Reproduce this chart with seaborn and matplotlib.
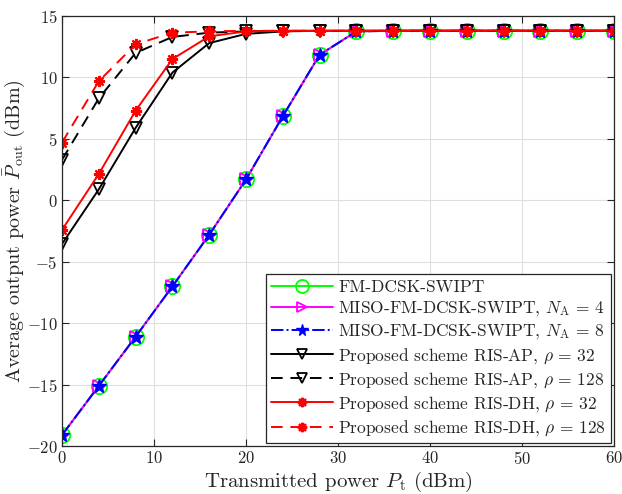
import seaborn as sns
import matplotlib.pyplot as plt
import numpy as np
import pandas as pd

# transmitted power (dBm)
pt = [0, 4, 8, 12, 16, 20, 24, 28, 32, 36, 40, 44, 48, 52, 56, 60]

# average output power (dBm)
fm_dcsk = [-19.1, -15.1, -11.1, -7.0, -2.8, 1.7, 6.85, 11.85, 13.75, 13.8, 13.8, 13.8, 13.8, 13.8, 13.8, 13.8]
miso_4 = [-19.1, -15.1, -11.1, -7.0, -2.8, 1.7, 6.85, 11.85, 13.75, 13.8, 13.8, 13.8, 13.8, 13.8, 13.8, 13.8]
miso_8 = [-19.1, -15.1, -11.1, -7.0, -2.8, 1.7, 6.85, 11.85, 13.75, 13.8, 13.8, 13.8, 13.8, 13.8, 13.8, 13.8]
ris_ap_32 = [-3.55, 0.9, 5.9, 10.4, 12.8, 13.55, 13.75, 13.8, 13.8, 13.8, 13.8, 13.8, 13.8, 13.8, 13.8, 13.8]
ris_ap_128 = [3.3, 8.3, 12.0, 13.3, 13.65, 13.75, 13.8, 13.8, 13.8, 13.8, 13.8, 13.8, 13.8, 13.8, 13.8, 13.8]
ris_dh_32 = [-2.4, 2.15, 7.3, 11.5, 13.35, 13.75, 13.8, 13.8, 13.8, 13.8, 13.8, 13.8, 13.8, 13.8, 13.8, 13.8]
ris_dh_128 = [4.7, 9.7, 12.7, 13.65, 13.75, 13.8, 13.8, 13.8, 13.8, 13.8, 13.8, 13.8, 13.8, 13.8, 13.8, 13.8]

labels = [r'FM-DCSK-SWIPT',
          r'MISO-FM-DCSK-SWIPT, $N_{\rm A}\,=\,4$',
          r'MISO-FM-DCSK-SWIPT, $N_{\rm A}\,=\,8$',
          r'Proposed scheme RIS-AP, $\rho\,=\,32$',
          r'Proposed scheme RIS-AP, $\rho\,=\,128$',
          r'Proposed scheme RIS-DH, $\rho\,=\,32$',
          r'Proposed scheme RIS-DH, $\rho\,=\,128$']

sns.set_theme(style='whitegrid')
plt.rcParams['font.family'] = ['cmr10', 'DejaVu Serif']
plt.rcParams['mathtext.fontset'] = 'cm'
plt.rcParams['axes.formatter.use_mathtext'] = True
plt.rcParams['axes.unicode_minus'] = False

styles = [
    dict(color='#00ff00', linestyle='-', marker='o', ms=11, mfc='none', mew=1.3),
    dict(color='#ff00ff', linestyle='-', marker='>', ms=8, mfc='none', mew=1.3),
    dict(color='#0000ff', linestyle='-.', marker='*', ms=10, mfc='#0000ff', mew=1.0),
    dict(color='black', linestyle='-', marker='v', ms=8, mfc='none', mew=1.3),
    dict(color='black', linestyle=(0, (6, 4)), marker='v', ms=8, mfc='none', mew=1.3),
    dict(color='red', linestyle='-', marker=(8, 2, 0), ms=8, mfc='red', mew=1.6),
    dict(color='red', linestyle=(0, (6, 4)), marker=(8, 2, 0), ms=8, mfc='red', mew=1.6),
]
series = [fm_dcsk, miso_4, miso_8, ris_ap_32, ris_ap_128, ris_dh_32, ris_dh_128]

fig = plt.figure(figsize=(6.22, 4.94), dpi=100)
ax = fig.add_axes([0.0997, 0.097, 0.8875, 0.8705])

for y, lab, st in zip(series, labels, styles):
    df = pd.DataFrame({'x': pt, 'y': y})
    sns.lineplot(data=df, x='x', y='y', ax=ax, label=lab, color=st['color'],
                 linestyle=st['linestyle'], marker=st['marker'], markersize=st['ms'],
                 markerfacecolor=st['mfc'], markeredgecolor=st['color'],
                 markeredgewidth=st['mew'], linewidth=1.4, dashes=False)
    # seaborn overrides dashes; set again
    ax.lines[-1].set_linestyle(st['linestyle'])

ax.set_xlim(0, 60)
ax.set_ylim(-20, 15)
ax.set_xticks(np.arange(0, 61, 10))
ax.set_yticks(np.arange(-20, 16, 5))
ax.set_xlabel(r'Transmitted power $P_{\rm t}$ (dBm)', fontsize=15, labelpad=2)
ax.set_ylabel(r'Average output power $\bar{P}_{\rm out}$ (dBm)', fontsize=14.5, labelpad=0)
ax.tick_params(labelsize=12, direction='in', length=5, top=True, right=True,
               bottom=True, left=True, color='#262626', width=0.8, pad=3)
ax.grid(True, color='#dfdfdf', linewidth=0.8)
for s in ax.spines.values():
    s.set_color('#262626')
    s.set_linewidth(0.9)
ax.set_facecolor('white')

leg = ax.legend(loc='lower right', fontsize=12.5, handlelength=3.6, framealpha=1,
                fancybox=False, edgecolor='#262626', borderpad=0.3, markerscale=0.85,
                labelspacing=0.25, handletextpad=0.3, borderaxespad=0.15)
leg.get_frame().set_linewidth(0.9)

fig.savefig('out.png', dpi=100)
